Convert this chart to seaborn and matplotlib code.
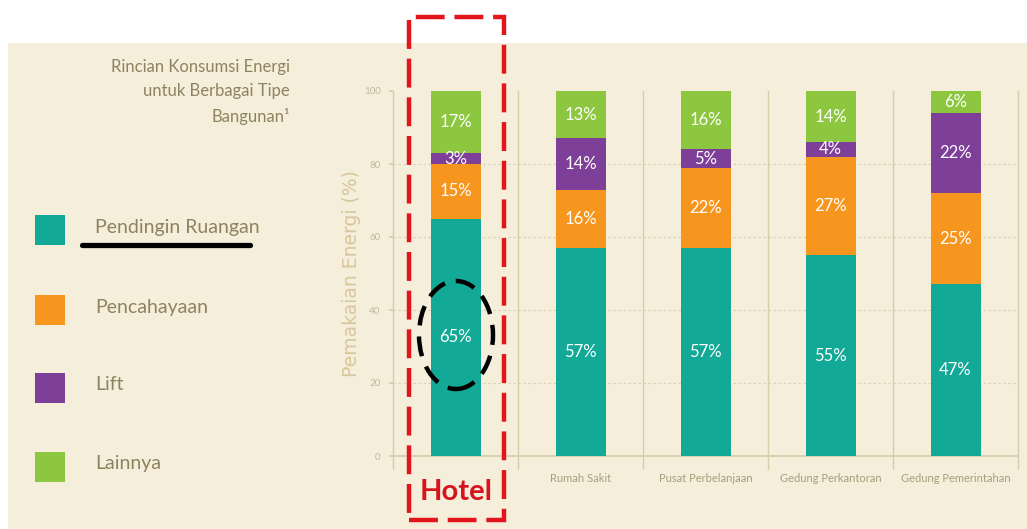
import matplotlib
matplotlib.use("Agg")
import matplotlib.pyplot as plt
from matplotlib.patches import Rectangle, Ellipse
from matplotlib.lines import Line2D
import numpy as np
import pandas as pd
import seaborn as sns

categories = ["Hotel", "Rumah Sakit", "Pusat Perbelanjaan",
              "Gedung Perkantoran", "Gedung Pemerintahan"]
series = ["Pendingin Ruangan", "Pencahayaan", "Lift", "Lainnya"]
pendingin = [65, 57, 57, 55, 47]
pencahayaan = [15, 16, 22, 27, 25]
lift = [3, 14, 5, 4, 22]
lainnya = [17, 13, 16, 14, 6]
yticks = [0, 20, 40, 60, 80, 100]

colors = ["#12A996", "#F7961E", "#7E3F98", "#8DC63F"]
bg = "#F5EEDB"
txt = "#8E8260"

sns.set_theme(style="white")
plt.rcParams["font.family"] = ["Lato", "DejaVu Sans"]

W, H = 1027, 529
fig = plt.figure(figsize=(W / 100, H / 100), dpi=100, facecolor="white")
fig.patches.append(Rectangle((8 / W, 0), 1, 1 - 43 / H, transform=fig.transFigure,
                             facecolor=bg, edgecolor="none", zorder=-5))

ax = fig.add_axes([393 / W, 1 - 456 / H, 625 / W, 365 / H])
ax.patch.set_alpha(0)

values = np.array([pendingin, pencahayaan, lift, lainnya], dtype=float)
cum = values.cumsum(axis=0)
df = pd.DataFrame({"kategori": categories})
# draw cumulative totals from the top segment down so they stack
for i in range(len(series) - 1, -1, -1):
    df["nilai"] = cum[i]
    sns.barplot(data=df, x="kategori", y="nilai", order=categories,
                color=colors[i], saturation=1, width=0.4, linewidth=0,
                ax=ax, zorder=3)

for j in range(len(categories)):
    base = 0
    for i in range(len(series)):
        v = values[i, j]
        ax.text(j, base + v / 2, f"{int(v)}%", ha="center", va="center",
                color="white", fontsize=12, zorder=5)
        base += v

ax.set_xlim(-0.5, len(categories) - 0.5)
ax.set_ylim(0, 100)
ax.set_yticks(yticks)
ax.set_yticklabels([str(t) for t in yticks], fontsize=7, color="#C2B89C")
ax.tick_params(axis="y", length=3, color="#D8CCAA", pad=6, left=True)
ax.tick_params(axis="x", length=0, pad=12)
for t in [20, 40, 60, 80]:
    ax.axhline(t, color="#DCD2B6", lw=0.9, ls=(0, (2, 2)), zorder=1)
for x in np.arange(-0.5, len(categories), 1.0):
    ax.plot([x, x], [-3.5, 100], color="#D8CCAA", lw=1, zorder=1, clip_on=False)
for s in ["top", "right", "left"]:
    ax.spines[s].set_visible(False)
ax.spines["bottom"].set_color("#D8CCAA")

ax.set_xlabel("")
ax.set_ylabel("Pemakaian Energi (%)", fontsize=13.5, color="#D8C69C",
              family="DejaVu Sans", labelpad=2)
ax.set_xticks(range(len(categories)))
ax.set_xticklabels([""] + categories[1:], fontsize=8, color="#A99D7C")

# highlighted first category
fig.text(456 / W, 1 - 492 / H, categories[0], ha="center", va="center",
         fontsize=21, fontweight="bold", color="#D7141D")
fig.patches.append(Rectangle((409 / W, 1 - 520 / H), 95 / W, 503 / H,
                             transform=fig.transFigure, fill=False,
                             edgecolor="#E4141B", lw=3.2, ls=(0, (6.5, 2.2)), zorder=10))
fig.patches.append(Ellipse((456 / W, 1 - 335 / H), 74 / W, 108 / H,
                           transform=fig.transFigure, fill=False,
                           edgecolor="black", lw=3.2, ls=(0, (4.5, 2.5)), zorder=10))

# title
fig.text(290 / W, 1 - 92 / H, "Rincian Konsumsi Energi\nuntuk Berbagai Tipe\nBangunan\u00b9",
         ha="right", va="center", fontsize=12, color=txt, linespacing=1.6)

# legend
for i, name in enumerate(series):
    yc = [230, 310, 388, 467][i]
    fig.patches.append(Rectangle((35 / W, 1 - (yc + 15) / H), 30 / W, 30 / H,
                                 transform=fig.transFigure, facecolor=colors[i],
                                 edgecolor="none", zorder=2))
    fig.text(95 / W, 1 - (yc - 3) / H, name, ha="left", va="center",
             fontsize=14, color=txt)
fig.lines.append(Line2D([82 / W, 250 / W], [1 - 245 / H, 1 - 245 / H],
                        transform=fig.transFigure, color="black", lw=3.8))

fig.savefig("out.png", dpi=100, facecolor="white")
